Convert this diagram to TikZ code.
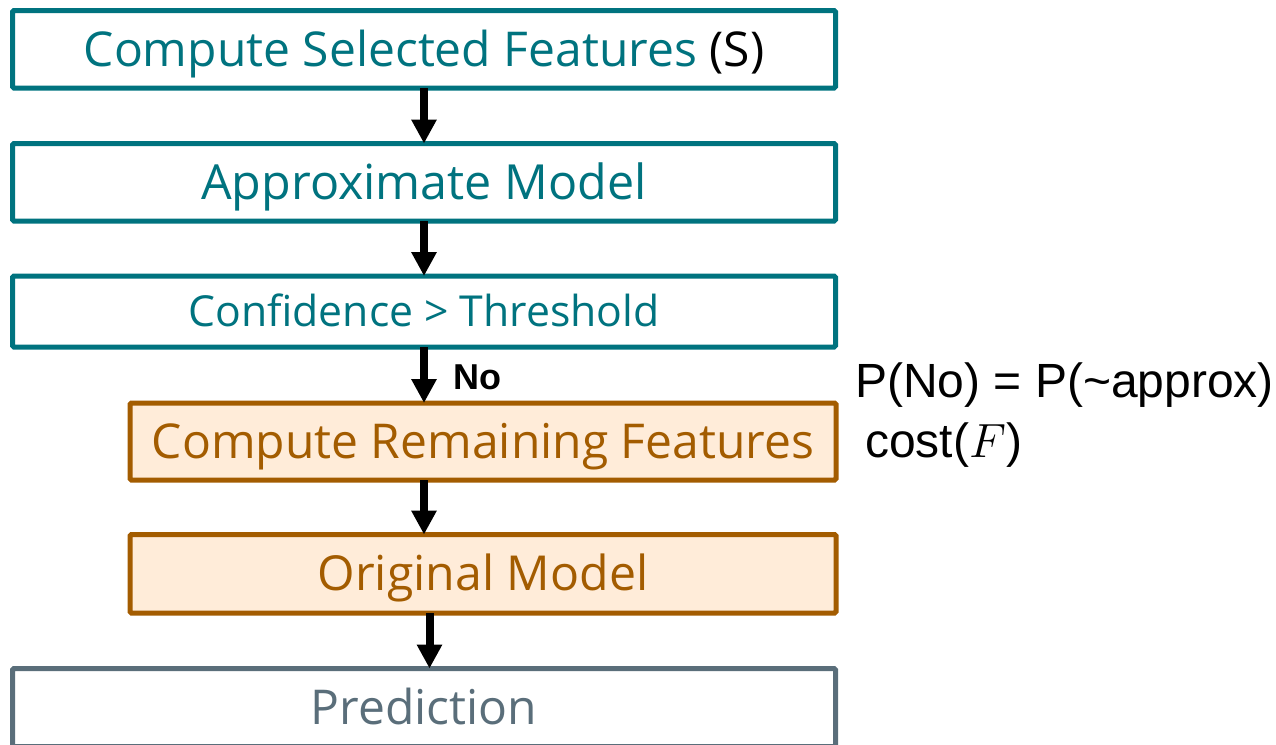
\documentclass[tikz,border=0pt]{standalone}
\usepackage{fix-cm}
\usepackage{fontspec}
\setmainfont{Open Sans}
\newfontfamily\labfont{Liberation Sans}
\usetikzlibrary{arrows.meta}

\definecolor{tealc}{RGB}{0,115,127}
\definecolor{orng}{RGB}{163,92,0}
\definecolor{orngfill}{RGB}{255,236,217}
\definecolor{slate}{RGB}{90,110,122}

\begin{document}
\begin{tikzpicture}[x=1pt,y=-1pt,
  box/.style={draw, line width=5pt, rounded corners=1.5pt, inner sep=0pt,
    outer sep=0pt, text depth=0pt, align=center},
  fs/.style={font=\fontsize{#1}{#1}\selectfont, text height={0.714*#1}},
  tealbox/.style={box, draw=tealc, text=tealc, fill=white, minimum width=823pt},
  orangebox/.style={box, draw=orng, text=orng, fill=orngfill, minimum width=706pt},
  slatebox/.style={box, draw=slate, text=slate, fill=white, minimum width=823pt},
  flow/.style={line width=8pt, -{Triangle[width=24pt,length=24pt]}},
  sidelabel/.style={anchor=base west, inner sep=0pt,
    font=\labfont\fontsize{48pt}{52pt}\selectfont}
]
\useasboundingbox (0,0) rectangle (1276,744);

% decision chain
\node[tealbox, fs=48pt, minimum height=77.5pt] (b1) at (424,49.25)
  {Compute Selected Features \textcolor{black}{(S)}};
\node[tealbox, fs=48.4pt, minimum height=77.5pt] (b2) at (424,182.25)
  {Approximate Model};
\node[tealbox, fs=42.7pt, minimum height=71pt] (b3) at (424,311.5)
  {Confidence > Threshold};
\node[orangebox, fs=48pt, minimum height=77pt] (b4) at (483,441.5)
  {Compute Remaining Features};
\node[orangebox, fs=48.2pt, minimum height=78.5pt] (b5) at (483,573.75)
  {Original Model};
\node[slatebox, fs=48pt, minimum height=78pt] (b6) at (424,707.5)
  {Prediction};

% connectors
\draw[flow] (b1.south) -- (b2.north);
\draw[flow] (b2.south) -- (b3.north);
\draw[flow] (b3.south) -- (b3.south |- b4.north);
\draw[flow] (b4.south -| b3.south) -- (b5.north -| b3.south);
\coordinate (a5) at ([xshift=5.5pt]b6.north);
\draw[flow] (a5 |- b5.south) -- (a5);

% labels
\node[anchor=base west, inner sep=0pt,
  font=\labfont\bfseries\fontsize{36pt}{40pt}\selectfont] (no) at (453,389) {No};
\node[sidelabel] (pno) at (855,397) {P(No) = P(\textasciitilde approx)};
\node[sidelabel] (cost) at (865,457) {cost($F$)};
\end{tikzpicture}
\end{document}
